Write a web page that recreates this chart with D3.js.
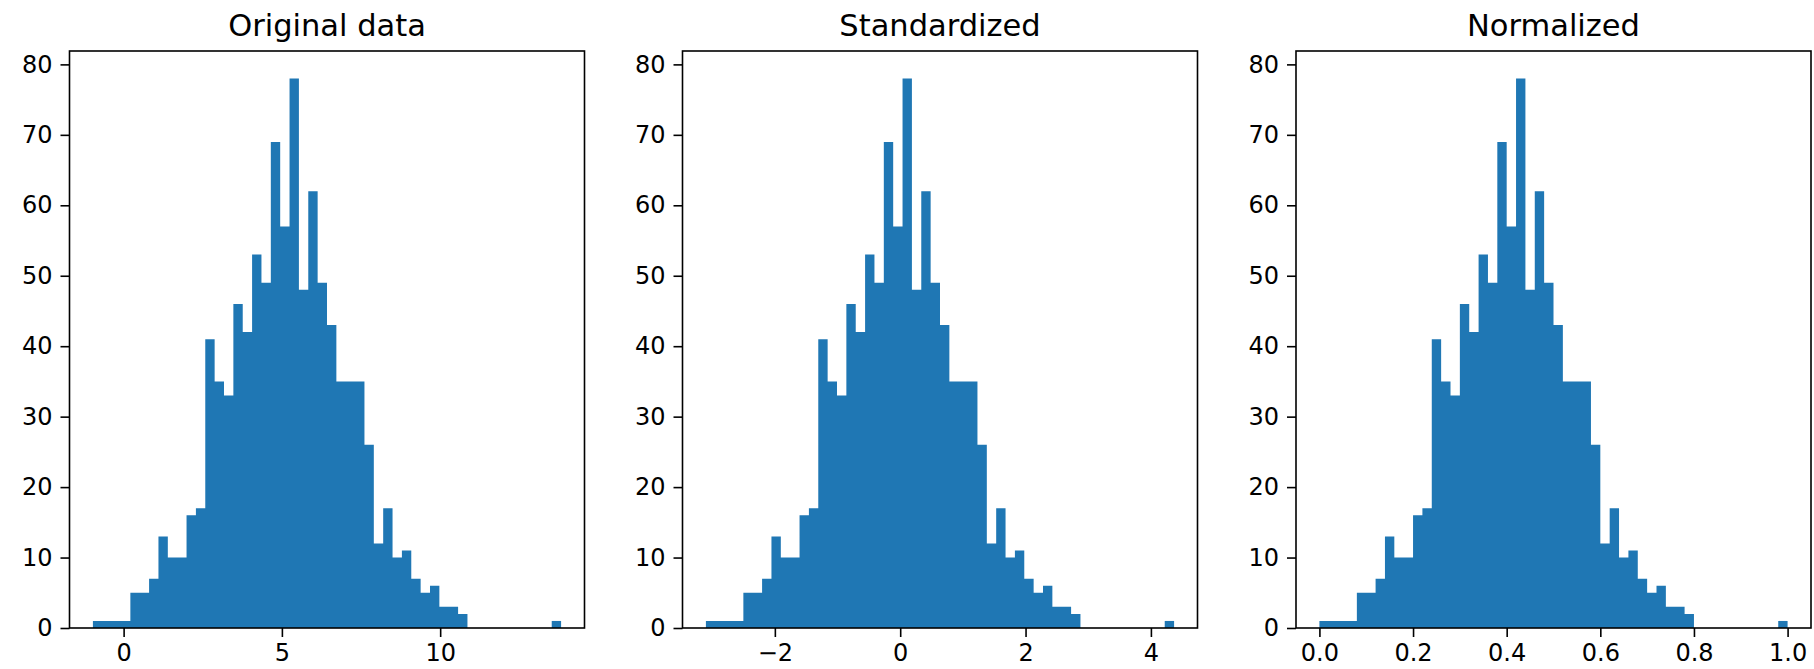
<!DOCTYPE html>
<html>
<head>
<meta charset="utf-8">
<script src="https://cdn.jsdelivr.net/npm/d3@7/dist/d3.min.js"></script>
<style>
  html, body { margin: 0; padding: 0; background: #fff; }
  svg { display: block; }
  text { font-family: "DejaVu Sans", sans-serif; fill: #000; }
</style>
</head>
<body>
<svg id="chart" width="1814" height="669"></svg>
<script>
// Histogram counts (50 bins, identical shape in all three panels)
const counts = [1, 1, 1, 1, 5, 5, 7, 13, 10, 10,
                16, 17, 41, 35, 33, 46, 42, 53, 49, 69,
                57, 78, 48, 62, 49, 43, 35, 35, 35, 26,
                12, 17, 10, 11, 7, 5, 6, 3, 3, 2,
                0, 0, 0, 0, 0, 0, 0, 0, 0, 1];

const titles = ["Original data", "Standardized", "Normalized"];
// data range (min, max) of each panel
const dataMin = [-0.97, -3.10, 0.0];
const dataMax = [13.82, 4.37, 1.0];

const xTicks = [[0, 5, 10], [-2, 0, 2, 4], [0.0, 0.2, 0.4, 0.6, 0.8, 1.0]];
const xTickLabels = [["0", "5", "10"], ["\u22122", "0", "2", "4"], ["0.0", "0.2", "0.4", "0.6", "0.8", "1.0"]];
const yTicks = [0, 10, 20, 30, 40, 50, 60, 70, 80];

const svg = d3.select("#chart");
const axLeft = [69.5, 682.5, 1296];
const axW = 515, axTop = 51, axBottom = 628;
const nBins = counts.length;
const yMax = d3.max(counts) * 1.05;
const y = d3.scaleLinear().domain([0, yMax]).range([axBottom, axTop]);

titles.forEach((t, p) => {
  const lo = dataMin[p], hi = dataMax[p], span = hi - lo;
  const x = d3.scaleLinear()
    .domain([lo - 0.05 * span, hi + 0.05 * span])
    .range([axLeft[p], axLeft[p] + axW]);
  const g = svg.append("g");
  const w = span / nBins;
  const bins = counts.map((c, i) => ({ x0: lo + i * w, x1: lo + (i + 1) * w, c }));

  // bars: split into contiguous runs of non-empty bins, each drawn as one step path
  const runs = [];
  let cur = null;
  bins.forEach(b => {
    if (b.c > 0) { if (!cur) { cur = []; runs.push(cur); } cur.push(b); }
    else cur = null;
  });
  const area = d3.area()
    .x(d => x(d.x))
    .y0(y(0))
    .y1(d => y(d.c))
    .curve(d3.curveStepAfter);
  runs.forEach(run => {
    const pts = run.map(b => ({ x: b.x0, c: b.c }));
    pts.push({ x: run[run.length - 1].x1, c: run[run.length - 1].c });
    g.append("path").attr("d", area(pts)).attr("fill", "#1f77b4");
  });

  // frame
  g.append("rect")
    .attr("x", axLeft[p]).attr("y", axTop)
    .attr("width", axW).attr("height", axBottom - axTop)
    .attr("fill", "none").attr("stroke", "#000").attr("stroke-width", 1.6);

  // x axis
  const xa = d3.axisBottom(x).tickValues(xTicks[p])
    .tickFormat((d, i) => xTickLabels[p][i])
    .tickSize(9).tickPadding(7);
  const gx = g.append("g").attr("transform", `translate(0,${axBottom})`).call(xa);
  gx.select(".domain").remove();
  gx.selectAll(".tick line").attr("stroke", "#000").attr("stroke-width", 1.6);
  gx.selectAll(".tick text").style("font-size", "24px").style("font-family", "DejaVu Sans").attr("fill", "#000");

  // y axis
  const ya = d3.axisLeft(y).tickValues(yTicks).tickSize(9).tickPadding(8);
  const gy = g.append("g").attr("transform", `translate(${axLeft[p]},0)`).call(ya);
  gy.select(".domain").remove();
  gy.selectAll(".tick line").attr("stroke", "#000").attr("stroke-width", 1.6);
  gy.selectAll(".tick text").style("font-size", "24px").style("font-family", "DejaVu Sans").attr("fill", "#000");

  // title
  g.append("text")
    .attr("x", axLeft[p] + axW / 2).attr("y", axTop - 15)
    .attr("text-anchor", "middle")
    .style("font-size", "30.5px")
    .text(t);
});
</script>
</body>
</html>
